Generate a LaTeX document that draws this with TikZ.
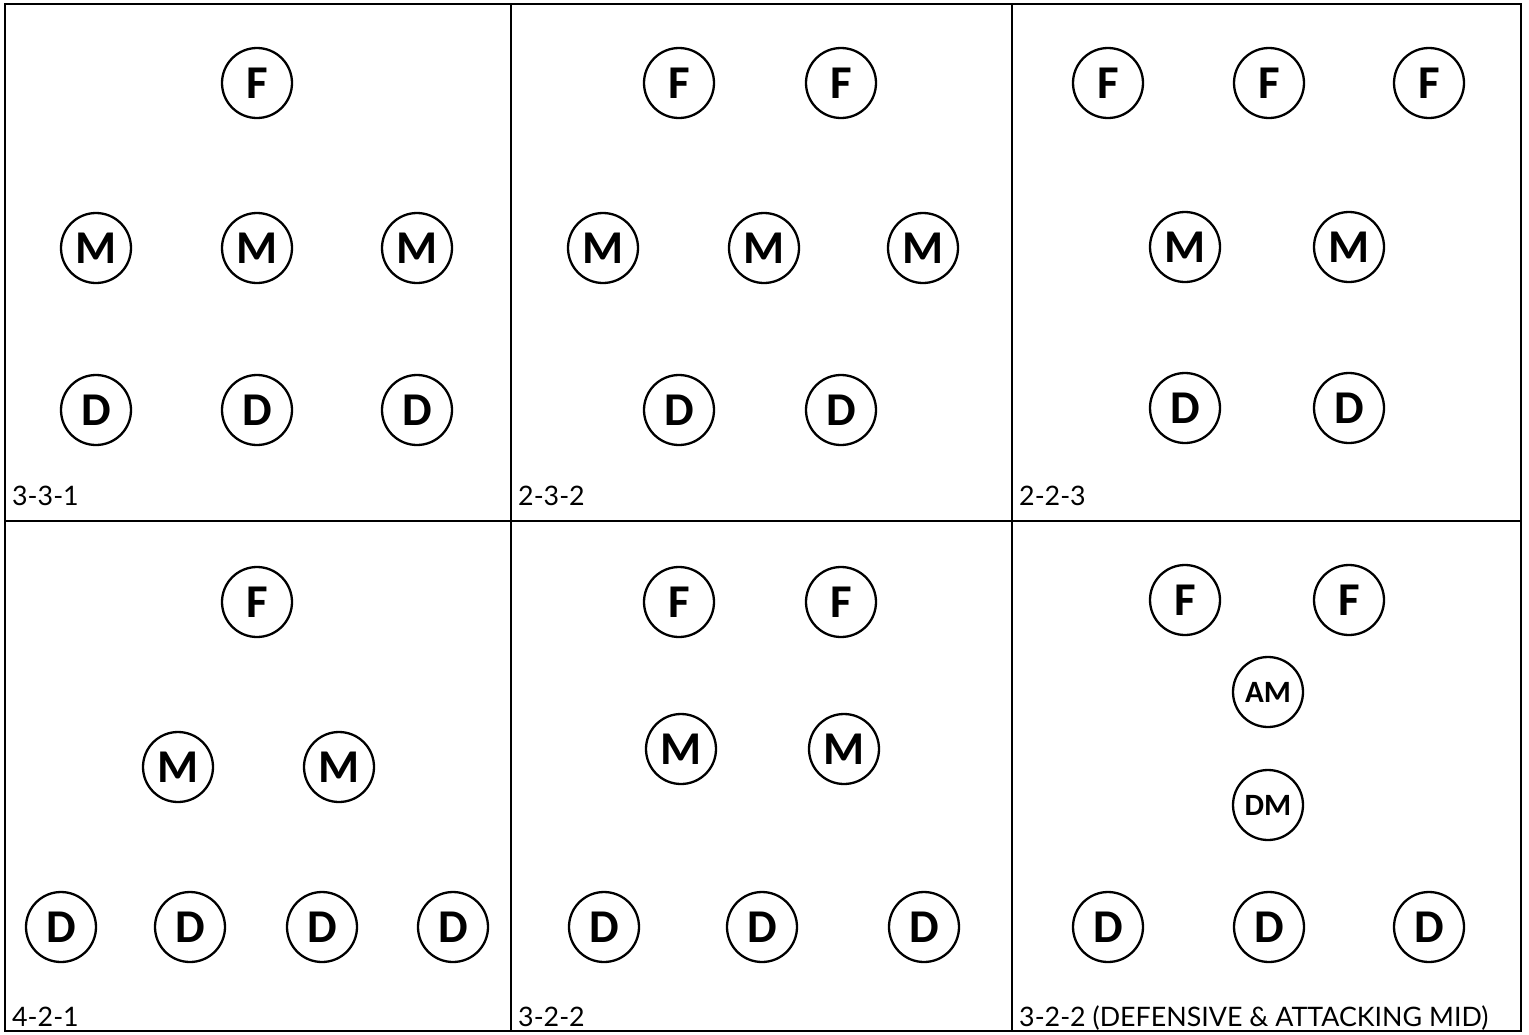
\documentclass[tikz,border=0pt]{standalone}
\usepackage{fontspec}
\setmainfont{Lato}
\newfontfamily\playerfont{Carlito}
\usetikzlibrary{positioning}

\begin{document}
\begin{tikzpicture}[x=1pt, y=-1pt,
    player/.style={draw, circle, line width=2.3pt, minimum size=70pt, inner sep=0pt, font=\playerfont\bfseries\fontsize{47}{47}\selectfont},
    smallplayer/.style={player, font=\playerfont\bfseries\fontsize{31}{31}\selectfont},
    caption/.style={anchor=base west, inner sep=0pt, font=\fontsize{26.8}{26.8}\selectfont}]
    \useasboundingbox (0,0) rectangle (1529,1034);

    % Grid
    \draw[line width=2pt] (5,4) rectangle (1521,1031);
    \draw[line width=2pt] (511,4) -- (511,1031);
    \draw[line width=2pt] (1012,4) -- (1012,1031);
    \draw[line width=2pt] (5,521) -- (1521,521);

    % 3-3-1
    \node[player] (af) at (257,83) {F};
    \node[player] (am1) at (96,248) {M};
    \node[player] (am2) at (257,248) {M};
    \node[player] (am3) at (417,248) {M};
    \node[player] (ad1) at (96,410) {D};
    \node[player] (ad2) at (257,410) {D};
    \node[player] (ad3) at (417,410) {D};
    \node[caption] (acap) at (12,505) {3-3-1};

    % 2-3-2
    \node[player] (bf1) at (679,83) {F};
    \node[player] (bf2) at (841,83) {F};
    \node[player] (bm1) at (603,248) {M};
    \node[player] (bm2) at (764,248) {M};
    \node[player] (bm3) at (923,248) {M};
    \node[player] (bd1) at (679,410) {D};
    \node[player] (bd2) at (841,410) {D};
    \node[caption] (bcap) at (518,505) {2-3-2};

    % 2-2-3
    \node[player] (cf1) at (1108,83) {F};
    \node[player] (cf2) at (1269,83) {F};
    \node[player] (cf3) at (1429,83) {F};
    \node[player] (cm1) at (1185,247) {M};
    \node[player] (cm2) at (1349,247) {M};
    \node[player] (cd1) at (1185,408) {D};
    \node[player] (cd2) at (1349,408) {D};
    \node[caption] (ccap) at (1019,505) {2-2-3};

    % 4-2-1
    \node[player] (df) at (257,602) {F};
    \node[player] (dm1) at (178,767) {M};
    \node[player] (dm2) at (339,767) {M};
    \node[player] (dd1) at (61,927) {D};
    \node[player] (dd2) at (190,927) {D};
    \node[player] (dd3) at (322,927) {D};
    \node[player] (dd4) at (453,927) {D};
    \node[caption] (dcap) at (12,1026) {4-2-1};

    % 3-2-2
    \node[player] (ef1) at (679,602) {F};
    \node[player] (ef2) at (841,602) {F};
    \node[player] (em1) at (681,749) {M};
    \node[player] (em2) at (844,749) {M};
    \node[player] (ed1) at (604,927) {D};
    \node[player] (ed2) at (762,927) {D};
    \node[player] (ed3) at (924,927) {D};
    \node[caption] (ecap) at (518,1026) {3-2-2};

    % 3-2-2 (defensive & attacking mid)
    \node[player] (ff1) at (1185,600) {F};
    \node[player] (ff2) at (1349,600) {F};
    \node[smallplayer] (fam) at (1268,692) {AM};
    \node[smallplayer] (fdm) at (1268,805) {DM};
    \node[player] (fd1) at (1108,927) {D};
    \node[player] (fd2) at (1269,927) {D};
    \node[player] (fd3) at (1429,927) {D};
    \node[caption] (fcap) at (1019,1026) {3-2-2 (DEFENSIVE \& ATTACKING MID)};
\end{tikzpicture}
\end{document}
